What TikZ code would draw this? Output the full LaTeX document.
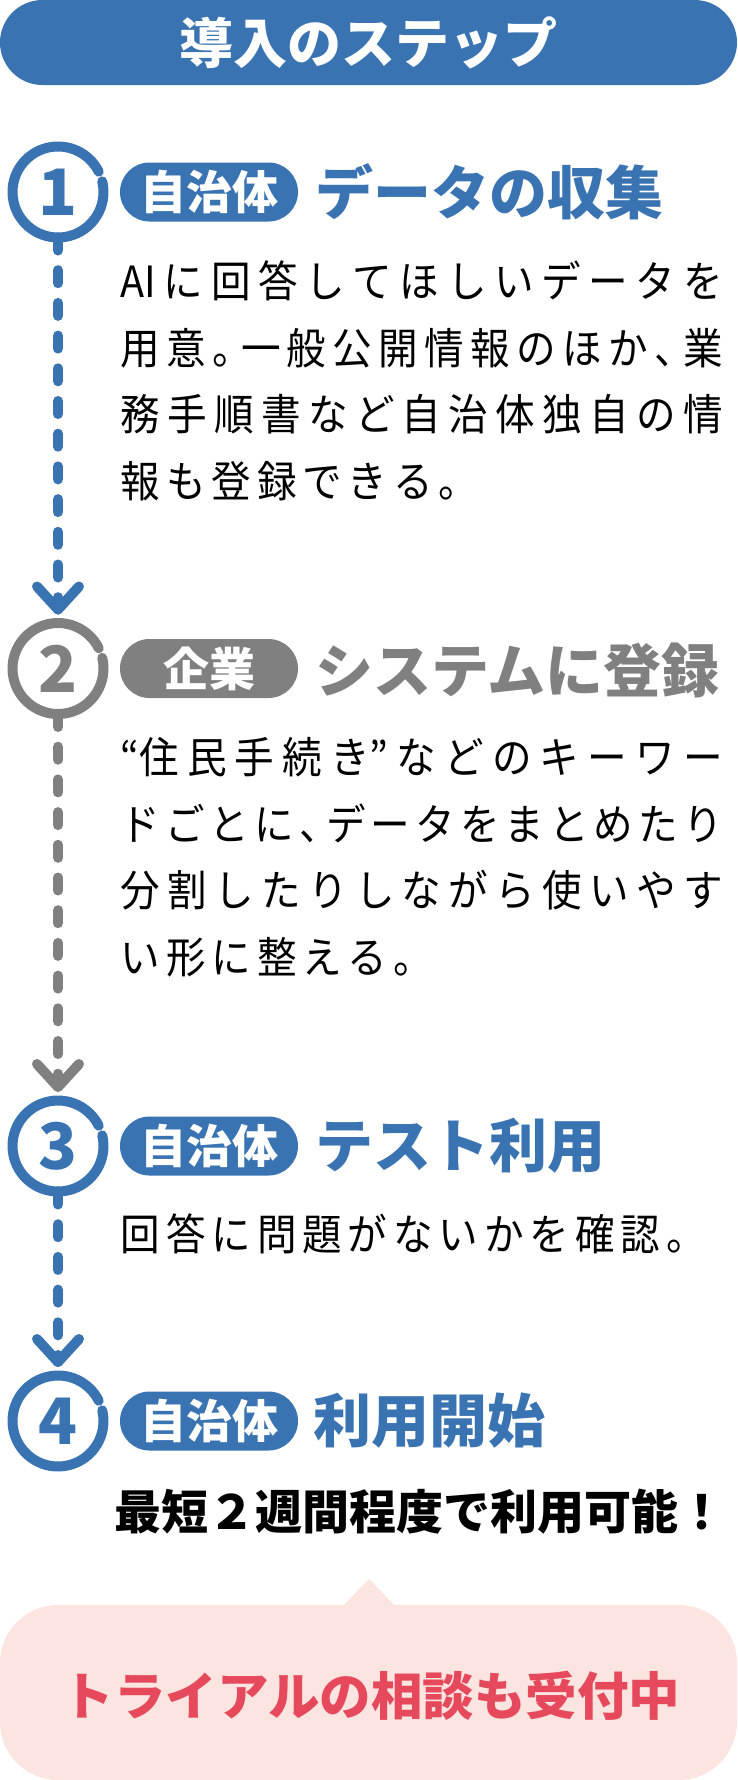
\documentclass[tikz,border=0pt]{standalone}
\usepackage{fontspec}
\usetikzlibrary{calc}
\newfontfamily\jp{Noto Sans CJK JP}
\newfontfamily\jpbody[FakeStretch=0.92]{Noto Sans CJK JP}
\definecolor{cblue}{HTML}{3A73B2}
\definecolor{cgray}{HTML}{808080}
\definecolor{cpink}{HTML}{FCE4E1}
\definecolor{cred}{HTML}{E5495B}
\ExplSyntaxOn
\cs_new:Npn \my_jchar:n #1
  {
    \str_case:nnF {#1}
      {
        {。}{\hbox~to~22pt{#1\hss}}
        {、}{\hbox~to~22pt{#1\hss}}
      }
      {#1}
  }
\NewDocumentCommand\jline{m m}{\hbox~to~#1{\tl_map_inline:nn{#2}{\my_jchar:n{##1}\hskip~0pt~plus~1fil}\unskip}}
\NewDocumentCommand\jnat{m m}{\hbox{\tl_map_inline:nn{#2}{##1\hskip~#1}\unskip}}
\ExplSyntaxOff
\tikzset{
  stepcircle/.style={circle, minimum size=91, inner sep=0, outer sep=0, font=\jp\bfseries\fontsize{64}{64}\selectfont},
  pill/.style={rounded corners=29.5, minimum width=178, minimum height=59, inner sep=0, text=white, font=\jp\bfseries\fontsize{46}{46}\selectfont},
  steptitle/.style={anchor=west, inner sep=0, font=\jp\bfseries\fontsize{58}{58}\selectfont},
  bodyline/.style={anchor=base west, inner sep=0, font=\jpbody\fontsize{43}{43}\selectfont},
  ring/.style={line width=10, line cap=round},
  dashline/.style={line width=10, line cap=round, dash pattern=on 13pt off 19.7pt},
  chevron/.style={line width=10, line cap=round, line join=round},
}
\begin{document}
\begin{tikzpicture}[x=1pt,y=-1pt]
\useasboundingbox (0,0) rectangle (737,1780);
\fill[white] (0,0) rectangle (737,1780);
% header
\node[fill=cblue, rounded corners=42.5, minimum width=737, minimum height=85, inner sep=0, text=white, font=\jp\bfseries\fontsize{54}{54}\selectfont] (hdr) at (368.5,42.5) {導入のステップ};
% circles
\node[stepcircle, text=cblue] (n1) at (58,192) {1};
\node[stepcircle, text=cgray] (n2) at (58,668.5) {2};
\node[stepcircle, text=cblue] (n3) at (58,1146) {3};
\node[stepcircle, text=cblue] (n4) at (58,1421) {4};
\draw[ring, cblue] ($(n1.center)+(-13.5:45.5)$) arc[start angle=-13.5, end angle=333.5, radius=45.5];
\draw[ring, cgray] ($(n2.center)+(-13.5:45.5)$) arc[start angle=-13.5, end angle=333.5, radius=45.5];
\draw[ring, cblue] ($(n3.center)+(-13.5:45.5)$) arc[start angle=-13.5, end angle=333.5, radius=45.5];
\draw[ring, cblue] ($(n4.center)+(-13.5:45.5)$) arc[start angle=-13.5, end angle=333.5, radius=45.5];
% connectors
\coordinate (t2) at ($(n2.north)+(0,-13.5)$);
\coordinate (t3) at ($(n3.north)+(0,-13.5)$);
\coordinate (t4) at ($(n4.north)+(0,-13.5)$);
\draw[dashline, cblue] (n1.south) -- (t2);
\draw[chevron, cblue] ($(t2)+(-21,-23)$) -- (t2) -- ($(t2)+(21,-23)$);
\draw[dashline, cgray] (n2.south) -- (t3);
\draw[chevron, cgray] ($(t3)+(-21,-23)$) -- (t3) -- ($(t3)+(21,-23)$);
\draw[dashline, cblue] (n3.south) -- (t4);
\draw[chevron, cblue] ($(t4)+(-21,-23)$) -- (t4) -- ($(t4)+(21,-23)$);
% pills
\node[pill, fill=cblue] (p1) at (209,192) {自治体};
\node[pill, fill=cgray] (p2) at (209,668.5) {企業};
\node[pill, fill=cblue] (p3) at (209,1146) {自治体};
\node[pill, fill=cblue] (p4) at (209,1421) {自治体};
% titles
\node[steptitle, text=cblue] (h1) at (315,192) {データの収集};
\node[steptitle, text=cgray] (h2) at (315,670) {システムに登録};
\node[steptitle, text=cblue] (h3) at (315,1146) {テスト利用};
\node[steptitle, text=cblue] (h4) at (313,1421) {利用開始};
% body step 1
\node[bodyline] (b11) at (120.5,297.5) {\jline{602pt}{{AI}に回答してほしいデータを}};
\node[bodyline] (b12) at (120.5,364) {\jline{602pt}{用意。一般公開情報のほか、業}};
\node[bodyline] (b13) at (120.5,430.5) {\jline{602pt}{務手順書など自治体独自の情}};
\node[bodyline] (b14) at (120.5,497) {\jnat{5.9pt}{報も登録できる。}};
% body step 2
\node[bodyline] (b21) at (120.5,773) {\jline{602pt}{{“住}民手続{き”}などのキーワー}};
\node[bodyline] (b22) at (120.5,840) {\jline{602pt}{ドごとに、データをまとめたり}};
\node[bodyline] (b23) at (120.5,906) {\jline{602pt}{分割したりしながら使いやす}};
\node[bodyline] (b24) at (120.5,973) {\jnat{5.9pt}{い形に整える。}};
% body step 3
\node[bodyline] (b31) at (120.5,1250) {\jnat{5.9pt}{回答に問題がないかを確認。}};
% step 4 line
\node[anchor=west, inner sep=0, font=\jp\bfseries\fontsize{47}{47}\selectfont] (b41) at (114.5,1512) {最短２週間程度で利用可能！};
% callout
\fill[cpink, rounded corners=58] (0,1605) rectangle (737,1780);
\fill[cpink] (343,1606) -- (369,1579) -- (395,1606) -- cycle;
\node[inner sep=0, text=cred, font=\jp\bfseries\fontsize{51.5}{51.5}\selectfont] (cta) at (371.5,1696) {トライアルの相談も受付中};
\end{tikzpicture}
\end{document}
